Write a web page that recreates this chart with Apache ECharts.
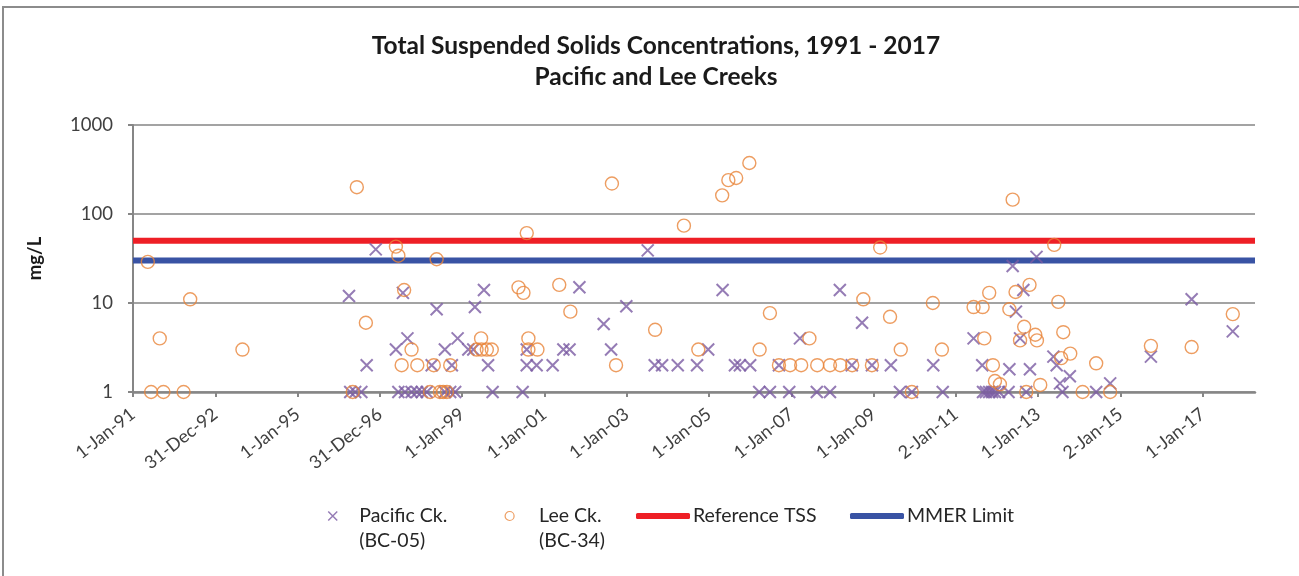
<!DOCTYPE html>
<html>
<head>
<meta charset="utf-8">
<script src="https://cdn.jsdelivr.net/npm/echarts@6/dist/echarts.min.js"></script>
<style>
  html, body { margin: 0; padding: 0; background: #fff; }
  #tssChart { width: 1299px; height: 576px; }
</style>
</head>
<body>
<div id="tssChart"></div>
<script>
// sample dates as decimal years, values in mg/L
const pacificYears = [
  1996.25, 1996.28, 1996.40, 1996.55, 1996.68, 1996.90,
  1997.39, 1997.45, 1997.56, 1997.61, 1997.67, 1997.77, 1997.90,
  1998.02, 1998.14, 1998.26, 1998.38, 1998.58, 1998.58, 1998.71, 1998.75, 1998.83, 1998.89,
  1999.15, 1999.27, 1999.31, 1999.53, 1999.63, 1999.74,
  2000.47, 2000.57, 2000.57, 2000.81, 2001.20, 2001.46, 2001.61, 2001.85,
  2002.44, 2002.62, 2002.99, 2003.51, 2003.68, 2003.86, 2004.24, 2004.71, 2004.98,
  2005.33, 2005.63, 2005.75, 2006.00, 2006.22, 2006.48, 2006.70, 2006.95,
  2007.21, 2007.62, 2007.94, 2008.18, 2008.47, 2008.72, 2008.96,
  2009.42, 2009.64, 2009.93, 2010.45, 2010.68,
  2011.43, 2011.64, 2011.66, 2011.73, 2011.81, 2011.88, 2011.95, 2012.05,
  2012.28, 2012.30, 2012.38, 2012.46, 2012.56, 2012.64, 2012.71, 2012.80, 2012.96,
  2013.37, 2013.45, 2013.53, 2013.59, 2013.77, 2014.41, 2014.75,
  2015.74, 2016.73, 2017.73
];
const pacificValues = [
  12, 1, 1, 1, 2, 40,
  3, 1, 13, 1, 4, 1, 1,
  1, 1, 2, 8.5, 3, 1, 1, 2, 1, 4,
  3, 3, 9, 14, 2, 1,
  1, 3, 2, 2, 2, 3, 3, 15,
  5.8, 3, 9.2, 39, 2, 2, 2, 2, 3,
  14, 2, 2, 2, 1, 1, 2, 1,
  4, 1, 1, 14, 2, 6, 2,
  2, 1, 1, 2, 1,
  4, 2, 1, 1, 1, 1, 1, 1,
  1, 1.8, 26, 8, 4, 14, 1, 1.8, 33,
  2.5, 2, 1.25, 1, 1.5, 1, 1.25,
  2.5, 11, 4.8
];

const leeYears = [
  1991.36, 1991.44, 1991.65, 1991.74, 1992.23, 1992.39, 1993.66,
  1996.34, 1996.44, 1996.66, 1997.39, 1997.45, 1997.53, 1997.59, 1997.77, 1997.91,
  1998.22, 1998.31, 1998.38, 1998.46, 1998.54, 1998.63, 1998.71,
  1999.35, 1999.46, 1999.47, 1999.60, 1999.72,
  2000.37, 2000.49, 2000.57, 2000.61, 2000.61, 2000.83, 2001.36, 2001.63,
  2002.64, 2002.74, 2003.69, 2004.39, 2004.74,
  2005.32, 2005.47, 2005.66, 2005.98, 2006.23, 2006.48, 2006.70, 2006.97,
  2007.24, 2007.44, 2007.63, 2007.94, 2008.19, 2008.48, 2008.75, 2008.96,
  2009.16, 2009.40, 2009.66, 2009.93, 2010.44, 2010.66,
  2011.43, 2011.65, 2011.69, 2011.81, 2011.90, 2011.95, 2012.07,
  2012.30, 2012.38, 2012.45, 2012.56, 2012.66, 2012.71, 2012.79, 2012.93, 2012.97,
  2013.05, 2013.39, 2013.49, 2013.56, 2013.61, 2013.78,
  2014.08, 2014.41, 2014.75, 2015.74, 2016.73, 2017.73
];
const leeValues = [
  29, 1, 4, 1, 1, 11, 3,
  1, 200, 6, 43, 34, 2, 14, 3, 2,
  1, 2, 31, 1, 1, 1, 2,
  3, 4, 3, 3, 3,
  15, 13, 61, 4, 3, 3, 16, 8,
  220, 2, 5, 74, 3,
  162, 240, 254, 374, 3, 7.7, 2, 2,
  2, 4, 2, 2, 2, 2, 11, 2,
  42, 7, 3, 1, 10, 3,
  9, 9, 4, 13, 2, 1.33, 1.22,
  8.5, 145, 13.3, 3.8, 5.4, 1, 16, 4.4, 3.8,
  1.2, 45, 10.3, 2.4, 4.7, 2.7,
  1, 2.1, 1, 3.3, 3.2, 7.5
];

const referenceTss = 50;
const mmerLimit = 30;

const xStart = 1991;
const xEnd = 2018.27;
const xTickLabels = [
  '1-Jan-91', '31-Dec-92', '1-Jan-95', '31-Dec-96', '1-Jan-99', '1-Jan-01', '1-Jan-03',
  '1-Jan-05', '1-Jan-07', '1-Jan-09', '2-Jan-11', '1-Jan-13', '2-Jan-15', '1-Jan-17'
];
const xTickValues = xTickLabels.map((_, i) => xStart + 2 * i);

const FONT = 'Lato';
const crossPath = 'path://M0,0L10,10M10,0L0,10';

// legend text: blank first line so the series name starts level with the icon
function legendText (name) {
  return ' \n' + name;
}

let chart = echarts.init(document.getElementById('tssChart'));
chart.setOption({
  animation: false,
  backgroundColor: '#fff',
  title: {
    text: 'Total Suspended Solids Concentrations, 1991 - 2017\nPacific and Lee Creeks',
    left: 651,
    top: 26,
    textAlign: 'center',
    textStyle: {
      fontFamily: FONT,
      fontSize: 24.5,
      fontWeight: 'bold',
      color: '#1a1a1a',
      lineHeight: 31
    }
  },
  graphic: [{
    type: 'rect',
    shape: { x: 3, y: 7, width: 1400, height: 700 },
    style: { fill: 'none', stroke: '#8c8c8c', lineWidth: 2 },
    silent: true
  }],
  grid: {
    left: 133,
    right: 44,
    top: 125,
    bottom: 184
  },
  legend: [
    {
      left: 327.5, top: 478.5, padding: 0,
      itemWidth: 9, itemHeight: 9,
      formatter: legendText,
      data: [{
        name: 'Pacific Ck.\n(BC-05)',
        icon: crossPath,
        itemStyle: { color: 'rgba(0,0,0,0)', borderColor: '#7A5BA3', borderWidth: 1.5 }
      }],
      textStyle: { fontFamily: FONT, fontSize: 19.5, color: '#262626', lineHeight: 25, padding: [0, 0, 0, 17] }
    },
    {
      left: 504.5, top: 478.5, padding: 0,
      itemWidth: 9, itemHeight: 9,
      formatter: legendText,
      data: [{
        name: 'Lee Ck.\n(BC-34)',
        icon: 'circle',
        itemStyle: { color: 'rgba(0,0,0,0)', borderColor: '#E8843A', borderWidth: 1.2 }
      }],
      textStyle: { fontFamily: FONT, fontSize: 19.5, color: '#262626', lineHeight: 25, padding: [0, 0, 0, 20] }
    },
    {
      left: 636, top: 503.5, padding: 0,
      itemWidth: 54, itemHeight: 6,
      data: [{ name: 'Reference TSS', icon: 'roundRect', itemStyle: { color: '#EE1F26' } }],
      textStyle: { fontFamily: FONT, fontSize: 19.5, color: '#262626', lineHeight: 25, padding: [0, 0, 0, -2] }
    },
    {
      left: 850, top: 503.5, padding: 0,
      itemWidth: 54, itemHeight: 6,
      data: [{ name: 'MMER Limit', icon: 'roundRect', itemStyle: { color: '#3953A4' } }],
      textStyle: { fontFamily: FONT, fontSize: 19.5, color: '#262626', lineHeight: 25, padding: [0, 0, 0, -2] }
    }
  ],
  xAxis: {
    type: 'value',
    min: xStart,
    max: xEnd,
    interval: 2,
    splitLine: { show: false },
    axisLine: { lineStyle: { color: '#868686', width: 2.5 } },
    axisTick: {
      show: true,
      length: 5,
      customValues: xTickValues,
      lineStyle: { color: '#868686', width: 2 }
    },
    axisLabel: {
      customValues: xTickValues,
      rotate: 38,
      margin: 20,
      fontFamily: FONT,
      fontSize: 18,
      color: '#404040',
      formatter: function (v) {
        let i = Math.round((v - xStart) / 2);
        return Math.abs(v - xTickValues[i]) < 0.01 ? xTickLabels[i] : '';
      }
    }
  },
  yAxis: {
    type: 'log',
    logBase: 10,
    min: 1,
    max: 1000,
    name: 'mg/L',
    nameLocation: 'middle',
    nameGap: 88,
    nameRotate: 90,
    nameTextStyle: { fontFamily: FONT, fontSize: 18.5, fontWeight: 'bold', color: '#1a1a1a' },
    axisLine: { show: true, lineStyle: { color: '#868686', width: 2 } },
    axisTick: { show: true, length: 5, lineStyle: { color: '#868686', width: 2 } },
    splitLine: { show: true, lineStyle: { color: '#a3a3a3', width: 2 } },
    axisLabel: {
      fontFamily: FONT,
      fontSize: 18.5,
      color: '#404040',
      margin: 20,
      formatter: function (v) { return String(Math.round(v)); }
    }
  },
  series: [
    {
      name: 'Reference TSS',
      type: 'line',
      z: 1,
      symbol: 'none',
      lineStyle: { color: '#EE1F26', width: 6 },
      itemStyle: { color: '#EE1F26' },
      data: [[xStart, referenceTss], [xEnd, referenceTss]]
    },
    {
      name: 'MMER Limit',
      type: 'line',
      z: 1,
      symbol: 'none',
      lineStyle: { color: '#3953A4', width: 6 },
      itemStyle: { color: '#3953A4' },
      data: [[xStart, mmerLimit], [xEnd, mmerLimit]]
    },
    {
      name: 'Pacific Ck.\n(BC-05)',
      type: 'scatter',
      z: 3,
      symbol: crossPath,
      symbolSize: 12,
      itemStyle: { color: 'rgba(0,0,0,0)', borderColor: '#7A5BA3', borderWidth: 2 },
      data: pacificYears.map((d, i) => [d, pacificValues[i]])
    },
    {
      name: 'Lee Ck.\n(BC-34)',
      type: 'scatter',
      z: 3,
      symbol: 'circle',
      symbolSize: 13,
      itemStyle: { color: 'rgba(0,0,0,0)', borderColor: '#E8843A', borderWidth: 1.4 },
      data: leeYears.map((d, i) => [d, leeValues[i]])
    }
  ]
});
</script>
</body>
</html>
